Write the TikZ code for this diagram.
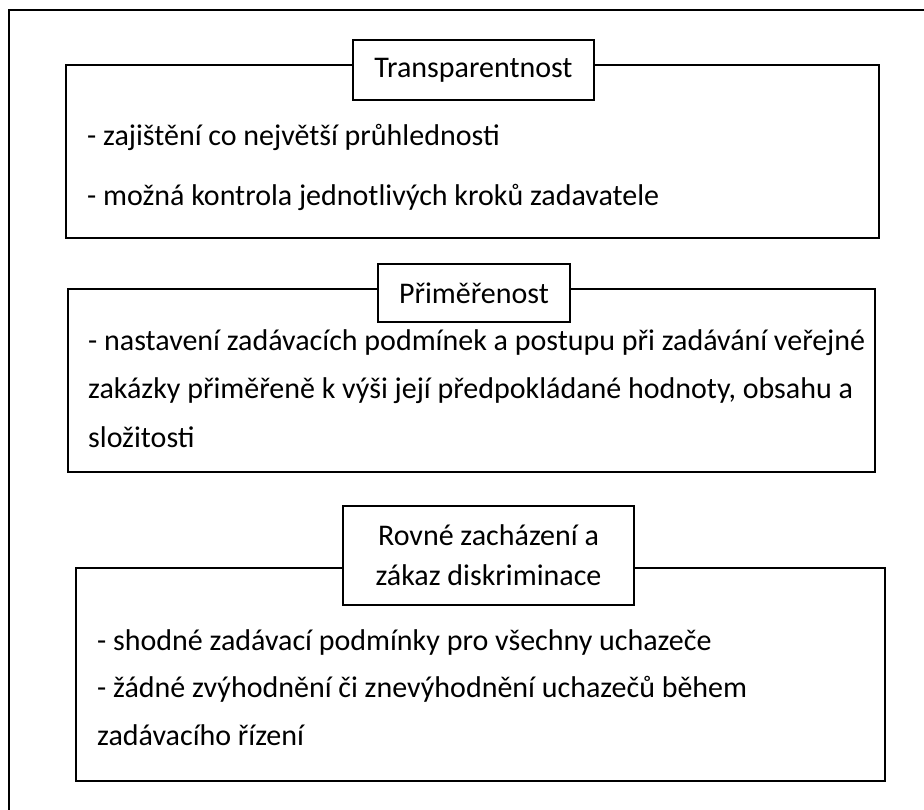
\documentclass[tikz,border=0pt]{standalone}
\usepackage{fontspec}
\setmainfont{Carlito}
\begin{document}
\begin{tikzpicture}[x=1pt,y=-1pt,
  frame/.style={draw=black,line width=2.6pt},
  bigbox/.style={draw=black,line width=1.8pt,fill=white,inner sep=0pt,anchor=north west},
  titlebox/.style={draw=black,line width=1.8pt,fill=white,inner sep=0pt,align=center,font=\fontsize{30}{40}\selectfont},
  line/.style={anchor=base west,inner sep=0pt,font=\fontsize{30}{47}\selectfont}]
\useasboundingbox (0,0) rectangle (924,810);
\draw[frame] (9,10) rectangle (960,840);
% box 1
\node[bigbox,minimum width=813pt,minimum height=173pt] (b1) at (65,64) {};
\node[titlebox,minimum width=241pt,minimum height=60pt] (t1) at (473.5,70) {Transparentnost};
\node[line] (l11) at (87,146) {- zajištění co největší průhlednosti};
\node[line] (l12) at (87,206) {- možná kontrola jednotlivých kroků zadavatele};
% box 2
\node[bigbox,minimum width=807pt,minimum height=183pt] (b2) at (67,288) {};
\node[titlebox,minimum width=192pt,minimum height=58pt] (t2) at (474,293) {Přiměřenost};
\node[line] (l21) at (88,351) {- nastavení zadávacích podmínek a postupu při zadávání veřejné};
\node[line] (l22) at (88,399) {zakázky přiměřeně k výši její předpokládané hodnoty, obsahu a};
\node[line] (l23) at (88,447) {složitosti};
% box 3
\node[bigbox,minimum width=809pt,minimum height=213pt] (b3) at (75,567) {};
\node[titlebox,minimum width=291pt,minimum height=99pt] (t3) at (488.5,555.5) {Rovné zacházení a\\zákaz diskriminace};
\node[line] (l31) at (97,650) {- shodné zadávací podmínky pro všechny uchazeče};
\node[line] (l32) at (97,697) {- žádné zvýhodnění či znevýhodnění uchazečů během};
\node[line] (l33) at (97,745) {zadávacího řízení};
\end{tikzpicture}
\end{document}
